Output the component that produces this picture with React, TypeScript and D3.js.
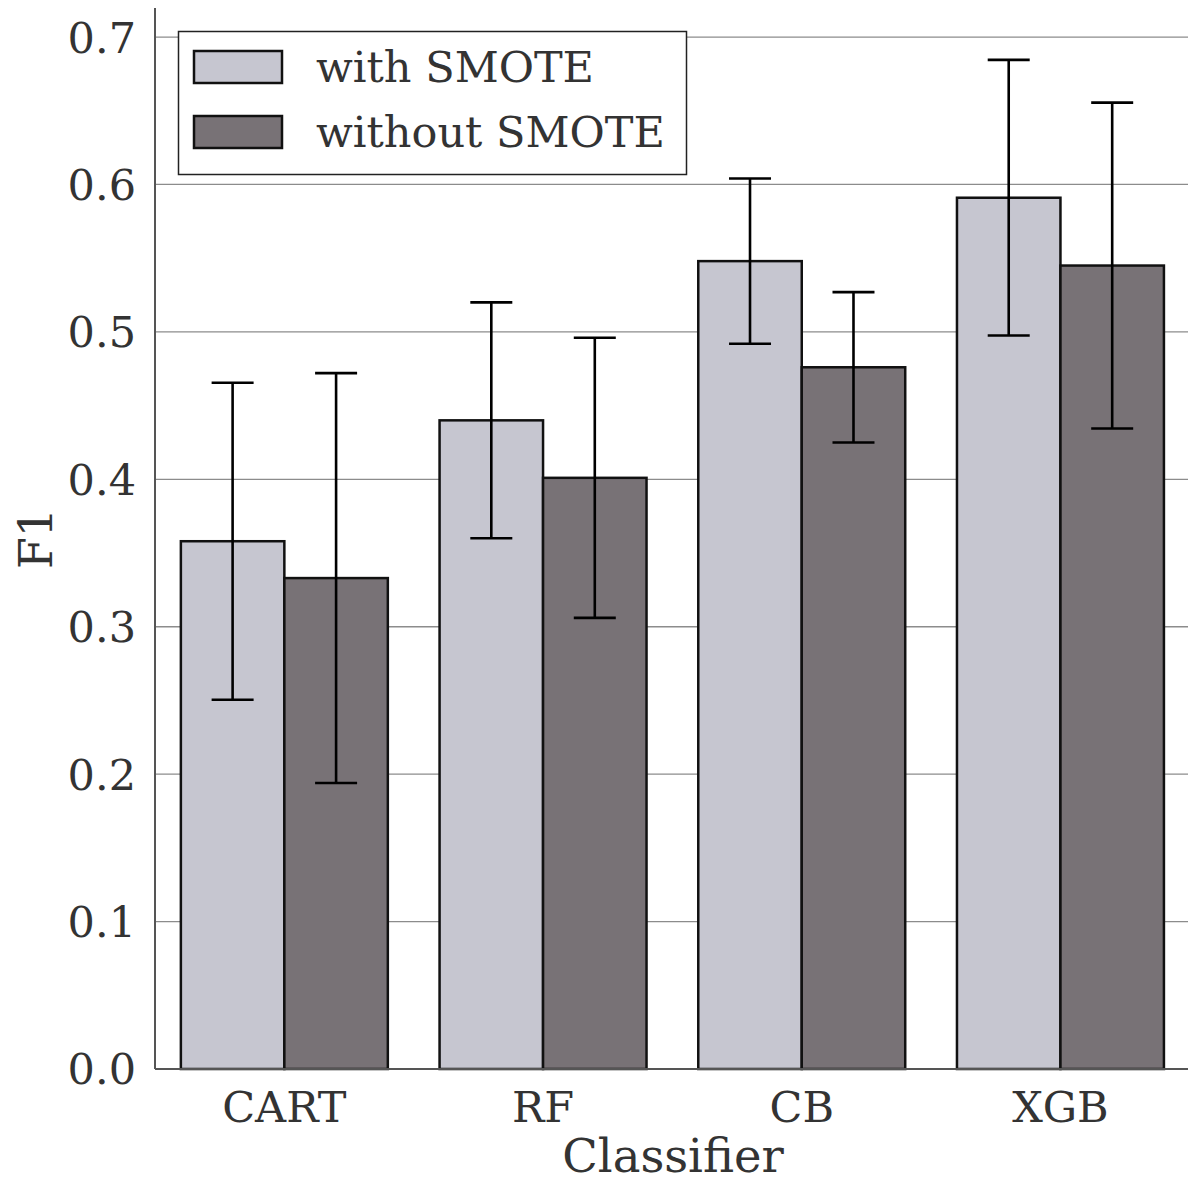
import React from "react";
import * as d3 from "d3";

const categories = ["CART", "RF", "CB", "XGB"];
const seriesNames = ["with SMOTE", "without SMOTE"];
const withSmote = [0.358, 0.440, 0.548, 0.591];
const withSmoteErr = [0.1075, 0.080, 0.056, 0.0935];
const withoutSmote = [0.333, 0.401, 0.476, 0.545];
const withoutSmoteErr = [0.139, 0.095, 0.051, 0.1105];
const yTicks = [0.0, 0.1, 0.2, 0.3, 0.4, 0.5, 0.6, 0.7];

const colors = ["#c6c6d0", "#787276"];
const FONT = "'DejaVu Serif', serif";

export default function App() {
  const W = 1188;
  const H = 1180;
  const left = 155;
  const bottom = 1069;
  const top = 8;
  const step = 258.7;

  const x = d3
    .scaleLinear()
    .domain([-0.5, categories.length - 0.5])
    .range([left, left + step * categories.length]);
  const y = d3.scaleLinear().domain([0, 0.7197]).range([bottom, top]);

  const barW = 0.4;
  const series = [
    { vals: withSmote, errs: withSmoteErr, off: -barW / 2 },
    { vals: withoutSmote, errs: withoutSmoteErr, off: barW / 2 },
  ];
  const capHalf = 21;

  return (
    <svg width={W} height={H} style={{ display: "block", position: "absolute", left: 0, top: 0 }}>
      <rect width={W} height={H} fill="#fff" />
      {/* horizontal grid */}
      {yTicks.slice(1).map((t) => (
        <line key={t} x1={left} x2={W} y1={y(t)} y2={y(t)} stroke="#8c8c8c" strokeWidth={1.3} />
      ))}
      {/* bars */}
      {series.map((s, si) =>
        s.vals.map((v, i) => {
          const x0 = x(i + s.off - barW / 2);
          const x1 = x(i + s.off + barW / 2);
          return (
            <rect
              key={`b${si}-${i}`}
              x={x0}
              y={y(v)}
              width={x1 - x0}
              height={y(0) - y(v)}
              fill={colors[si]}
              stroke="#111"
              strokeWidth={2.5}
            />
          );
        })
      )}
      {/* error bars */}
      {series.map((s, si) =>
        s.vals.map((v, i) => {
          const cx = x(i + s.off);
          const hi = y(v + s.errs[i]);
          const lo = y(v - s.errs[i]);
          return (
            <g key={`e${si}-${i}`} stroke="#000" strokeWidth={2.6}>
              <line x1={cx} x2={cx} y1={hi} y2={lo} />
              <line x1={cx - capHalf} x2={cx + capHalf} y1={hi} y2={hi} />
              <line x1={cx - capHalf} x2={cx + capHalf} y1={lo} y2={lo} />
            </g>
          );
        })
      )}
      {/* spines */}
      <line x1={left} x2={left} y1={top} y2={bottom} stroke="#555" strokeWidth={2} />
      <line x1={left} x2={W} y1={bottom} y2={bottom} stroke="#555" strokeWidth={2} />
      {/* y tick labels */}
      {yTicks.map((t) => (
        <text
          key={`yt${t}`}
          x={136}
          y={y(t)}
          dy="0.36em"
          textAnchor="end"
          fontFamily={FONT}
          fontSize={43}
          fill="#333"
        >
          {d3.format(".1f")(t)}
        </text>
      ))}
      {/* x tick labels */}
      {categories.map((c, i) => (
        <text key={c} x={x(i)} y={1122} textAnchor="middle" fontFamily={FONT} fontSize={43} fill="#333">
          {c}
        </text>
      ))}
      <text x={673} y={1172} textAnchor="middle" fontFamily={FONT} fontSize={46.5} fill="#333">
        Classifier
      </text>
      <text
        transform={`translate(52, ${(top + bottom) / 2}) rotate(-90)`}
        textAnchor="middle"
        fontFamily={FONT}
        fontSize={46}
        fill="#333"
      >
        F1
      </text>
      {/* legend */}
      <g>
        <rect x={178.5} y={31.5} width={508} height={143} fill="#fff" stroke="#222" strokeWidth={1.5} />
        {seriesNames.map((n, i) => (
          <g key={n} transform={`translate(0, ${i * 65})`}>
            <rect x={194} y={51} width={88} height={32} fill={colors[i]} stroke="#111" strokeWidth={2.5} />
            <text x={316} y={82} fontFamily={FONT} fontSize={43} fill="#333">
              {n}
            </text>
          </g>
        ))}
      </g>
    </svg>
  );
}
